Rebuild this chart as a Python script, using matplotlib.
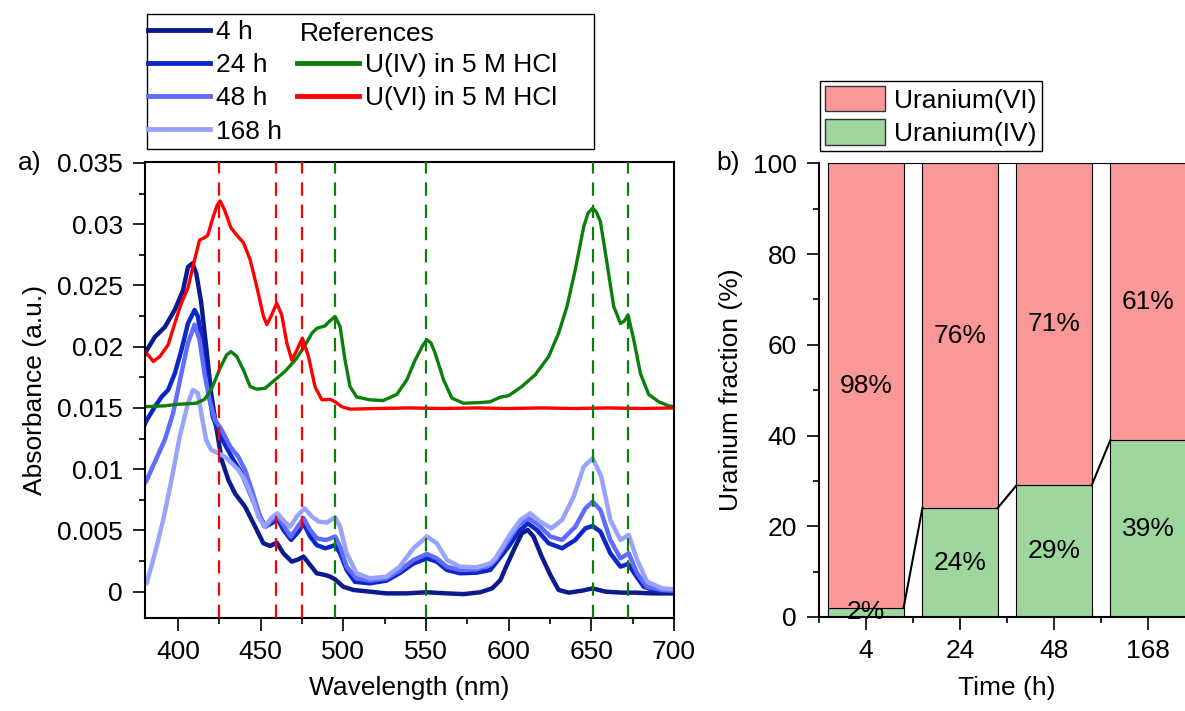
import numpy as np
import matplotlib
matplotlib.use('Agg')
import matplotlib.pyplot as plt
from matplotlib.lines import Line2D
from matplotlib.patches import Patch, Rectangle
from matplotlib.ticker import MultipleLocator, FuncFormatter

plt.rcParams['font.family'] = ['Liberation Sans', 'DejaVu Sans']
FS = 19

# ---- spectra ----
w_4h = [380, 381, 386, 392, 398, 403, 406, 408.7, 411, 414, 417, 420, 423.4, 426.4, 430.5, 434.5,
        440.5, 446.6, 451.6, 455.7, 459.7, 463.7, 468.8, 472.8, 475.9, 479.9, 483.9, 489, 492, 495,
        500, 506, 516, 526, 538, 550.5, 562.6, 572.7, 582.8, 590, 595, 598, 604, 608, 611.5, 615,
        620, 625.2, 630.2, 636.3, 644.4, 650.8, 658.5, 668.6, 676.7, 686.7, 700]
a_4h = [0.0194, 0.0197, 0.0208, 0.0216, 0.0230, 0.0246, 0.0265, 0.0268, 0.0260, 0.0236, 0.0200,
        0.0162, 0.0132, 0.01075, 0.0091, 0.0080, 0.00694, 0.00531, 0.00395, 0.00373, 0.0040,
        0.00313, 0.00245, 0.00264, 0.00286, 0.00218, 0.0015, 0.00136, 0.00123, 0.0010, 0.0004,
        0.00014, 0.0, -0.00014, -0.00014, -0.00005, -0.00014, -0.0002, -0.00005, 0.00027, 0.00095,
        0.0019, 0.00368, 0.00477, 0.00504, 0.0045, 0.00286, 0.00136, 0.00014, -0.00008, 0.00008,
        0.00027, 0.0, -0.00008, -0.00008, -0.00014, -0.00014]

w_24h = [380, 381, 386, 390, 394, 398, 402, 406, 410, 412, 415, 418, 421, 424.8, 428.4, 433.5,
         438.5, 443.6, 448.6, 452.6, 456.7, 460, 463.7, 468.4, 472.8, 475.9, 479.9, 483.9, 489, 491,
         495, 498, 502, 507, 516, 526, 534, 542.4, 550.5, 556.5, 562.6, 570.7, 580.7, 588.8, 592,
         600, 606, 611.5, 617.1, 624.2, 632.3, 640.3, 646.4, 650.8, 655.5, 661.5, 667.6, 672.2,
         676.7, 681.7, 688.8, 700]
a_24h = [0.0137, 0.0140, 0.0151, 0.0159, 0.01647, 0.0178, 0.0197, 0.0219, 0.0230, 0.02246, 0.0200,
         0.01675, 0.0143, 0.0129, 0.0120, 0.01075, 0.00967, 0.0080, 0.0064, 0.0053, 0.00558, 0.0060,
         0.00504, 0.00422, 0.0049, 0.00558, 0.0045, 0.0038, 0.00354, 0.00362, 0.0038, 0.00313,
         0.00177, 0.0008, 0.00068, 0.0009, 0.0015, 0.0023, 0.00272, 0.00245, 0.00177, 0.0015,
         0.00155, 0.00177, 0.0023, 0.00368, 0.0049, 0.00558, 0.00504, 0.00395, 0.00354, 0.00422,
         0.00517, 0.00536, 0.0049, 0.00313, 0.00204, 0.00226, 0.00136, 0.0004, 0.00008, 0.00005]

w_48h = [380, 381, 386, 392, 397, 402, 406, 410, 413, 416, 419, 422.4, 426.4, 431.5, 436.5, 440.5,
         444.6, 449.6, 453, 456.7, 460, 464.4, 468.2, 472.4, 475.9, 479.9, 483.9, 489, 491, 495, 498,
         502, 508, 516, 526, 534, 542.4, 550.5, 556.5, 562.6, 570.7, 580.7, 588.8, 592, 600, 606,
         612, 618, 625.2, 632.3, 640.3, 646.4, 650.8, 655.5, 661.5, 667.6, 672.6, 677.7, 683.7,
         692.8, 700]
a_48h = [0.0089, 0.0091, 0.0106, 0.0124, 0.01457, 0.0178, 0.0203, 0.0218, 0.02056, 0.0178, 0.01566,
         0.0140, 0.0132, 0.01185, 0.0110, 0.00994, 0.0083, 0.00613, 0.0053, 0.00585, 0.00626,
         0.0053, 0.0045, 0.0053, 0.0060, 0.00504, 0.00436, 0.00422, 0.00428, 0.0045, 0.00368,
         0.00204, 0.00109, 0.0009, 0.00109, 0.00172, 0.00259, 0.00308, 0.00272, 0.00204, 0.00177,
         0.00182, 0.00218, 0.00259, 0.00422, 0.00545, 0.0060, 0.00545, 0.0045, 0.00422, 0.0053,
         0.0068, 0.00735, 0.00667, 0.00422, 0.00272, 0.00313, 0.0015, 0.0004, 0.00014, 0.00008]

w_168h = [380, 381, 386, 391, 396, 401, 406, 409, 412, 414, 417, 420, 424.4, 428.4, 432.5, 436.5,
          440.5, 444.6, 448.6, 452.2, 456.3, 460, 464.4, 467.8, 471.8, 476.5, 481, 485, 490, 495,
          498, 502, 508, 516, 526, 534, 542.4, 550.5, 556.5, 562.6, 570.7, 580.7, 588.8, 592, 600,
          607, 613, 619, 625.8, 632.3, 639.3, 645.4, 650.8, 656, 661.5, 667.6, 672.6, 677.7, 683.7,
          692.8, 700]
a_168h = [0.0006, 0.00068, 0.00313, 0.00585, 0.0091, 0.01266, 0.01538, 0.01647, 0.0162, 0.01457,
          0.01239, 0.01157, 0.0113, 0.0110, 0.01048, 0.00994, 0.0091, 0.00776, 0.00613, 0.0053,
          0.0060, 0.0064, 0.00572, 0.0053, 0.00613, 0.0068, 0.00613, 0.00572, 0.00564, 0.00607,
          0.0053, 0.00313, 0.0015, 0.00109, 0.00123, 0.00204, 0.00354, 0.0045, 0.00395, 0.00259,
          0.00204, 0.00199, 0.0023, 0.00272, 0.0045, 0.00585, 0.0064, 0.00572, 0.00517, 0.00585,
          0.00776, 0.01021, 0.0109, 0.0094, 0.00585, 0.00422, 0.00463, 0.00259, 0.00082, 0.00027,
          0.00019]

w_u4 = [380, 392, 400, 411, 416, 420, 425.4, 429.4, 432, 435.5, 439.5, 443.6, 447.6, 452.6, 458.7,
        464.8, 470.8, 475.9, 481, 484, 489, 491, 495, 498, 501, 504, 508, 516, 524, 532.3, 538.4,
        543.4, 548, 550.5, 553, 555.5, 560.6, 565.6, 572.7, 582.8, 588.8, 594.9, 600, 608, 616,
        624.2, 630.2, 635.3, 640.3, 645.4, 648, 650.8, 653, 655.5, 659.5, 663.5, 667.6, 670, 672.2,
        675.6, 679.7, 684.7, 690.8, 696.8, 700]
a_u4 = [0.0151, 0.01517, 0.0153, 0.01538, 0.0157, 0.01647, 0.01824, 0.01933, 0.0196, 0.0192,
        0.0181, 0.01675, 0.01653, 0.0166, 0.0173, 0.0180, 0.0189, 0.0199, 0.0211, 0.0215, 0.0217,
        0.0220, 0.02246, 0.02165, 0.0189, 0.01675, 0.0159, 0.01566, 0.0156, 0.0161, 0.0173, 0.0189,
        0.0201, 0.02056, 0.0203, 0.01947, 0.0173, 0.0158, 0.01538, 0.01544, 0.0155, 0.01588, 0.0160,
        0.01675, 0.0177, 0.0192, 0.0211, 0.0233, 0.0263, 0.0298, 0.0309, 0.0313, 0.0310, 0.0302,
        0.0268, 0.0233, 0.0219, 0.0221, 0.0226, 0.0206, 0.0178, 0.0161, 0.0155, 0.01517, 0.0151]

w_u6 = [380, 381, 385, 389, 394, 398, 402, 406, 410, 413, 416, 418, 421, 423.5, 425.4, 428, 432,
        435.5, 439.5, 443.6, 447.6, 451.6, 453.7, 456.3, 459.7, 462.7, 465.8, 468.8, 471.8, 475.2,
        478.9, 482.9, 487, 492, 495, 499, 504, 520, 540, 560, 580, 600, 620, 640, 660, 680, 700]
a_u6 = [0.0196, 0.01947, 0.01879, 0.0192, 0.02015, 0.0219, 0.02355, 0.0248, 0.0271, 0.0287, 0.0289,
        0.0291, 0.0305, 0.0315, 0.0319, 0.0312, 0.0297, 0.0291, 0.0285, 0.0271, 0.0249, 0.0225,
        0.0218, 0.0225, 0.02355, 0.0226, 0.0203, 0.0189, 0.0197, 0.0207, 0.0192, 0.0167, 0.01566,
        0.0157, 0.0155, 0.0151, 0.0149, 0.01495, 0.0150, 0.01495, 0.0150, 0.01495, 0.0150, 0.01495,
        0.0150, 0.01495, 0.0150]

u6_peaks = [425, 459, 475]
u4_peaks = [495, 550, 651, 672]

# ---- fractions ----
times = ['4', '24', '48', '168']
u_iv = [2, 24, 29, 39]
u_vi = [98, 76, 71, 61]

col_4h, col_24h, col_48h, col_168h = '#0b1a8f', '#0d26c8', '#5f6cff', '#98a3ff'
green, red = '#0a800a', '#ff0000'
bar_red, bar_green = '#fa9898', '#9dd79d'

W, H = 1185, 711
fig = plt.figure(figsize=(W / 100, H / 100), dpi=100)

def px(x0, y0, x1, y1):
    return [x0 / W, 1 - y1 / H, (x1 - x0) / W, (y1 - y0) / H]

ax = fig.add_axes(px(145, 161.7, 674, 618))
for w, a, c in [(w_4h, a_4h, col_4h), (w_24h, a_24h, col_24h), (w_48h, a_48h, col_48h), (w_168h, a_168h, col_168h)]:
    ax.plot(w, a, color=c, lw=3.2, solid_joinstyle='round')
ax.plot(w_u4, a_u4, color=green, lw=2.4, solid_joinstyle='round')
ax.plot(w_u6, a_u6, color=red, lw=2.4, solid_joinstyle='round')
for p in u6_peaks:
    ax.axvline(p, color=red, lw=1.6, ls=(0, (6, 4)), zorder=5)
for p in u4_peaks:
    ax.axvline(p, color=green, lw=1.6, ls=(0, (6, 4)), zorder=5)

ax.set_xlim(380, 700)
ax.set_ylim(-0.00215, 0.0351)
ax.xaxis.set_major_locator(MultipleLocator(50))
ax.xaxis.set_minor_locator(MultipleLocator(25))
ax.yaxis.set_major_locator(MultipleLocator(0.005))
ax.yaxis.set_minor_locator(MultipleLocator(0.0025))
ax.yaxis.set_major_formatter(FuncFormatter(lambda v, p: '0' if abs(v) < 1e-9 else ('%.3f' % v).rstrip('0')))
ax.tick_params(which='both', direction='out', width=1.2, labelsize=FS, top=False, right=False)
ax.tick_params(which='major', length=9, pad=7)
ax.tick_params(which='minor', length=4.5)
for s in ax.spines.values():
    s.set_linewidth(1.5)
ax.set_xlabel('Wavelength (nm)', fontsize=FS)
ax.set_ylabel('Absorbance (a.u.)', fontsize=FS)
ax.xaxis.set_label_coords(0.5, -0.127)
ax.yaxis.set_label_coords(-0.185, 0.5)
fig.text(18 / W, 1 - 163 / H, 'a)', fontsize=FS, va='center')

# legend of the spectra
handles = [Line2D([], [], color=c, lw=3.5) for c in (col_4h, col_24h, col_48h, col_168h)]
handles += [Line2D([], [], color='none'), Line2D([], [], color=green, lw=3.5),
            Line2D([], [], color=red, lw=3.5), Line2D([], [], color='none')]
labels = ['4 h', '24 h', '48 h', '168 h', '', 'U(IV) in 5 M HCl', 'U(VI) in 5 M HCl', '']
fig.legend(handles, labels, loc='upper left', bbox_to_anchor=(148 / W, 1 - 20 / H), ncol=2,
           frameon=False, fontsize=FS, handlelength=2.35, handletextpad=0.23, labelspacing=0.35,
           columnspacing=0.55, borderpad=0, borderaxespad=0)
fig.text(300 / W, 1 - 34 / H, 'References', fontsize=FS, va='center')
fig.add_artist(Rectangle((146.7 / W, 1 - 149 / H), (594 - 146.7) / W, (149 - 14) / H,
                         transform=fig.transFigure, fill=False, ec='black', lw=1.0))

# ---- uranium fraction bars ----
bx = fig.add_axes(px(819, 163.3, 1195, 617))
xs = np.arange(len(times))
bx.bar(xs, u_iv, width=0.8, color=bar_green, edgecolor='black', linewidth=0.8, label='Uranium(IV)')
bx.bar(xs, u_vi, width=0.8, bottom=u_iv, color=bar_red, edgecolor='black', linewidth=0.8, label='Uranium(VI)')
tops = [a + b for a, b in zip(u_iv, u_vi)]
for i in range(len(times) - 1):
    bx.plot([xs[i] + 0.4, xs[i + 1] - 0.4], [u_iv[i], u_iv[i + 1]], color='black', lw=1.5)
    bx.plot([xs[i] + 0.4, xs[i + 1] - 0.4], [tops[i], tops[i + 1]], color='black', lw=1.5)
for i in range(len(times)):
    bx.text(xs[i], u_iv[i] / 2, '%d%%' % u_iv[i], ha='center', va='center', fontsize=FS)
    bx.text(xs[i], u_iv[i] + u_vi[i] / 2, '%d%%' % u_vi[i], ha='center', va='center', fontsize=FS)
bx.set_xlim(-0.5, 3.5)
bx.set_ylim(0, 100)
bx.set_xticks(xs)
bx.set_xticklabels(times)
bx.set_xticks(np.arange(-0.5, 4, 1), minor=True)
bx.yaxis.set_major_locator(MultipleLocator(20))
bx.yaxis.set_minor_locator(MultipleLocator(10))
bx.tick_params(which='both', direction='out', width=1.2, labelsize=FS)
bx.tick_params(which='major', length=9, pad=7)
bx.tick_params(which='minor', length=4.5)
bx.spines['top'].set_visible(False)
bx.spines['right'].set_visible(False)
for s in ('left', 'bottom'):
    bx.spines[s].set_linewidth(1.5)
bx.set_xlabel('Time (h)', fontsize=FS)
bx.set_ylabel('Uranium fraction (%)', fontsize=FS)
bx.xaxis.set_label_coords(0.5, -0.13)
bx.yaxis.set_label_coords(-0.202, 0.5)
fig.text(716 / W, 1 - 163 / H, 'b)', fontsize=FS, va='center')

bh = [Patch(facecolor=bar_red, edgecolor='#333333'), Patch(facecolor=bar_green, edgecolor='#333333')]
lg = fig.legend(bh, ['Uranium(VI)', 'Uranium(IV)'], loc='upper left', bbox_to_anchor=(820 / W, 1 - 80.7 / H),
                fontsize=FS, handlelength=2.27, handleheight=1.1, handletextpad=0.34, labelspacing=0.25,
                borderpad=0.2, borderaxespad=0, fancybox=False, framealpha=1)
lg.get_frame().set_edgecolor('black')
lg.get_frame().set_linewidth(1.0)

fig.savefig('out.png', dpi=100)
